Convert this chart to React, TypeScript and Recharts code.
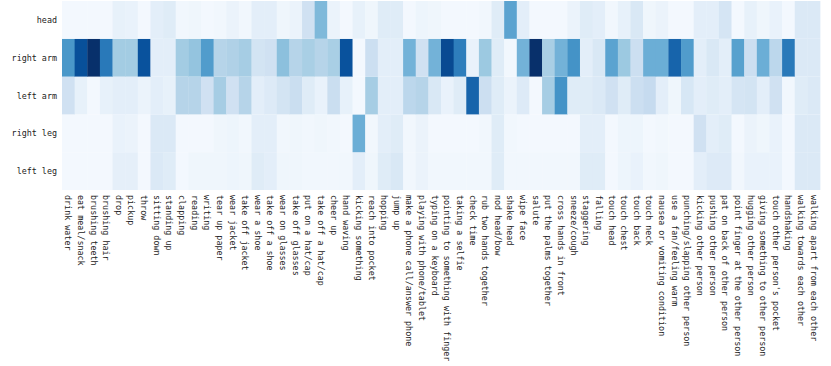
import { BarChart, Bar, Cell, XAxis, YAxis } from 'recharts';

const actions = [
  'drink water', 'eat meal/snack', 'brushing teeth', 'brushing hair', 'drop',
  'pickup', 'throw', 'sitting down', 'standing up', 'clapping',
  'reading', 'writing', 'tear up paper', 'wear jacket', 'take off jacket',
  'wear a shoe', 'take off a shoe', 'wear on glasses', 'take off glasses', 'put on a hat/cap',
  'take off a hat/cap', 'cheer up', 'hand waving', 'kicking something', 'reach into pocket',
  'hopping', 'jump up', 'make a phone call/answer phone', 'playing with phone/tablet', 'typing on a keyboard',
  'pointing to something with finger', 'taking a selfie', 'check time', 'rub two hands together', 'nod head/bow',
  'shake head', 'wipe face', 'salute', 'put the palms together', 'cross hands in front',
  'sneeze/cough', 'staggering', 'falling', 'touch head', 'touch chest',
  'touch back', 'touch neck', 'nausea or vomiting condition', 'use a fan/feeling warm', 'punching/slapping other person',
  'kicking other person', 'pushing other person', 'pat on back of other person', 'point finger at the other person', 'hugging other person',
  'giving something to other person', "touch other person's pocket", 'handshaking', 'walking towards each other', 'walking apart from each other',
];

const head = [
  0.02, 0.02, 0.02, 0.02, 0.08, 0.07, 0.02, 0.1, 0.12, 0.03,
  0.04, 0.02, 0.03, 0.06, 0.03, 0.1, 0.1, 0.04, 0.06, 0.2,
  0.45, 0.06, 0.02, 0.08, 0.04, 0.12, 0.12, 0.02, 0.05, 0.04,
  0.02, 0.02, 0.02, 0.03, 0.12, 0.55, 0.1, 0.02, 0.02, 0.02,
  0.06, 0.12, 0.1, 0.03, 0.08, 0.15, 0.04, 0.06, 0.02, 0.02,
  0.1, 0.1, 0.17, 0.02, 0.08, 0.04, 0.07, 0.02, 0.14, 0.14,
];
const rightArm = [
  0.6, 0.88, 1.0, 0.72, 0.36, 0.36, 0.87, 0.1, 0.1, 0.36,
  0.4, 0.58, 0.3, 0.32, 0.35, 0.18, 0.2, 0.42, 0.3, 0.34,
  0.3, 0.34, 0.87, 0.02, 0.22, 0.1, 0.1, 0.48, 0.2, 0.48,
  0.9, 0.7, 0.07, 0.38, 0.12, 0.03, 0.48, 1.0, 0.34, 0.48,
  0.62, 0.1, 0.15, 0.55, 0.38, 0.22, 0.5, 0.5, 0.8, 0.58,
  0.1, 0.15, 0.1, 0.56, 0.22, 0.5, 0.28, 0.72, 0.14, 0.14,
];
const leftArm = [
  0.2, 0.08, 0.02, 0.08, 0.1, 0.1, 0.06, 0.1, 0.08, 0.3,
  0.3, 0.2, 0.35, 0.2, 0.3, 0.1, 0.13, 0.18, 0.23, 0.12,
  0.07, 0.23, 0.08, 0.02, 0.35, 0.1, 0.1, 0.28, 0.3, 0.15,
  0.07, 0.12, 0.8, 0.22, 0.12, 0.06, 0.13, 0.02, 0.35, 0.62,
  0.12, 0.12, 0.14, 0.2, 0.12, 0.22, 0.25, 0.1, 0.04, 0.16,
  0.1, 0.12, 0.1, 0.17, 0.18, 0.1, 0.2, 0.03, 0.12, 0.14,
];
const rightLeg = [
  0.02, 0.02, 0.02, 0.02, 0.07, 0.06, 0.02, 0.14, 0.14, 0.02,
  0.02, 0.02, 0.04, 0.05, 0.03, 0.1, 0.1, 0.03, 0.04, 0.03,
  0.04, 0.03, 0.02, 0.5, 0.03, 0.1, 0.12, 0.03, 0.06, 0.02,
  0.02, 0.02, 0.02, 0.03, 0.12, 0.03, 0.02, 0.02, 0.02, 0.02,
  0.02, 0.1, 0.1, 0.02, 0.05, 0.05, 0.02, 0.03, 0.02, 0.02,
  0.2, 0.1, 0.12, 0.02, 0.06, 0.04, 0.07, 0.02, 0.14, 0.14,
];
const leftLeg = [
  0.02, 0.02, 0.02, 0.02, 0.09, 0.09, 0.02, 0.14, 0.12, 0.02,
  0.04, 0.04, 0.04, 0.05, 0.04, 0.12, 0.1, 0.04, 0.04, 0.03,
  0.03, 0.03, 0.03, 0.1, 0.04, 0.12, 0.15, 0.03, 0.06, 0.03,
  0.03, 0.03, 0.03, 0.03, 0.12, 0.03, 0.03, 0.03, 0.03, 0.03,
  0.03, 0.12, 0.12, 0.02, 0.05, 0.07, 0.03, 0.04, 0.02, 0.02,
  0.1, 0.13, 0.13, 0.03, 0.07, 0.07, 0.07, 0.02, 0.14, 0.14,
];

// bottom to top, as they stack
const rows = [
  { key: 'leftLeg', label: 'left leg', values: leftLeg },
  { key: 'rightLeg', label: 'right leg', values: rightLeg },
  { key: 'leftArm', label: 'left arm', values: leftArm },
  { key: 'rightArm', label: 'right arm', values: rightArm },
  { key: 'head', label: 'head', values: head },
];

// matplotlib "Blues"
const blues = ['#f7fbff', '#deebf7', '#c6dbef', '#9ecae1', '#6baed6', '#4292c6', '#2171b5', '#08519c', '#08306b'];

function hex(c: string) {
  return [1, 3, 5].map((i) => parseInt(c.slice(i, i + 2), 16));
}

function bluesColor(v: number) {
  const t = Math.max(0, Math.min(1, v)) * (blues.length - 1);
  const i = Math.min(Math.floor(t), blues.length - 2);
  const f = t - i;
  const a = hex(blues[i]);
  const b = hex(blues[i + 1]);
  const c = a.map((x, k) => Math.round(x + (b[k] - x) * f));
  return `rgb(${c[0]},${c[1]},${c[2]})`;
}

const data = actions.map((name, i) => {
  const d: Record<string, any> = { name };
  rows.forEach((r) => (d[r.key] = 1));
  return d;
});

const FONT = '"DejaVu Sans Mono", monospace';

const XTick = ({ x, y, payload }: any) => (
  <text
    transform={`translate(${x},${y}) rotate(90)`}
    textAnchor="start"
    dominantBaseline="central"
    fontFamily={FONT}
    fontSize={8.4}
    fill="#222"
  >
    {payload.value}
  </text>
);

const YTick = ({ x, y, payload }: any) => (
  <text x={x} y={y} textAnchor="end" dominantBaseline="central" fontFamily={FONT} fontSize={8.4} fill="#222">
    {rows[Math.floor(payload.value)].label}
  </text>
);

export default function App() {
  return (
    <div style={{ position: 'absolute', left: 0, top: 0, background: '#fff' }}>
      <BarChart
        width={831}
        height={366}
        data={data}
        barCategoryGap={0}
        margin={{ top: 1, right: 11, bottom: 6, left: 0 }}
      >
        <XAxis
          dataKey="name"
          interval={0}
          axisLine={false}
          tickLine={false}
          tickSize={0}
          tickMargin={5}
          height={170}
          tick={<XTick />}
        />
        <YAxis
          type="number"
          domain={[0, 5]}
          ticks={[0.5, 1.5, 2.5, 3.5, 4.5]}
          axisLine={false}
          tickLine={false}
          tickSize={0}
          tickMargin={5}
          width={62}
          tick={<YTick />}
        />
        {rows.map((r) => (
          <Bar key={r.key} dataKey={r.key} stackId="a" isAnimationActive={false}>
            {r.values.map((v, i) => (
              <Cell key={i} fill={bluesColor(v)} />
            ))}
          </Bar>
        ))}
      </BarChart>
    </div>
  );
}
